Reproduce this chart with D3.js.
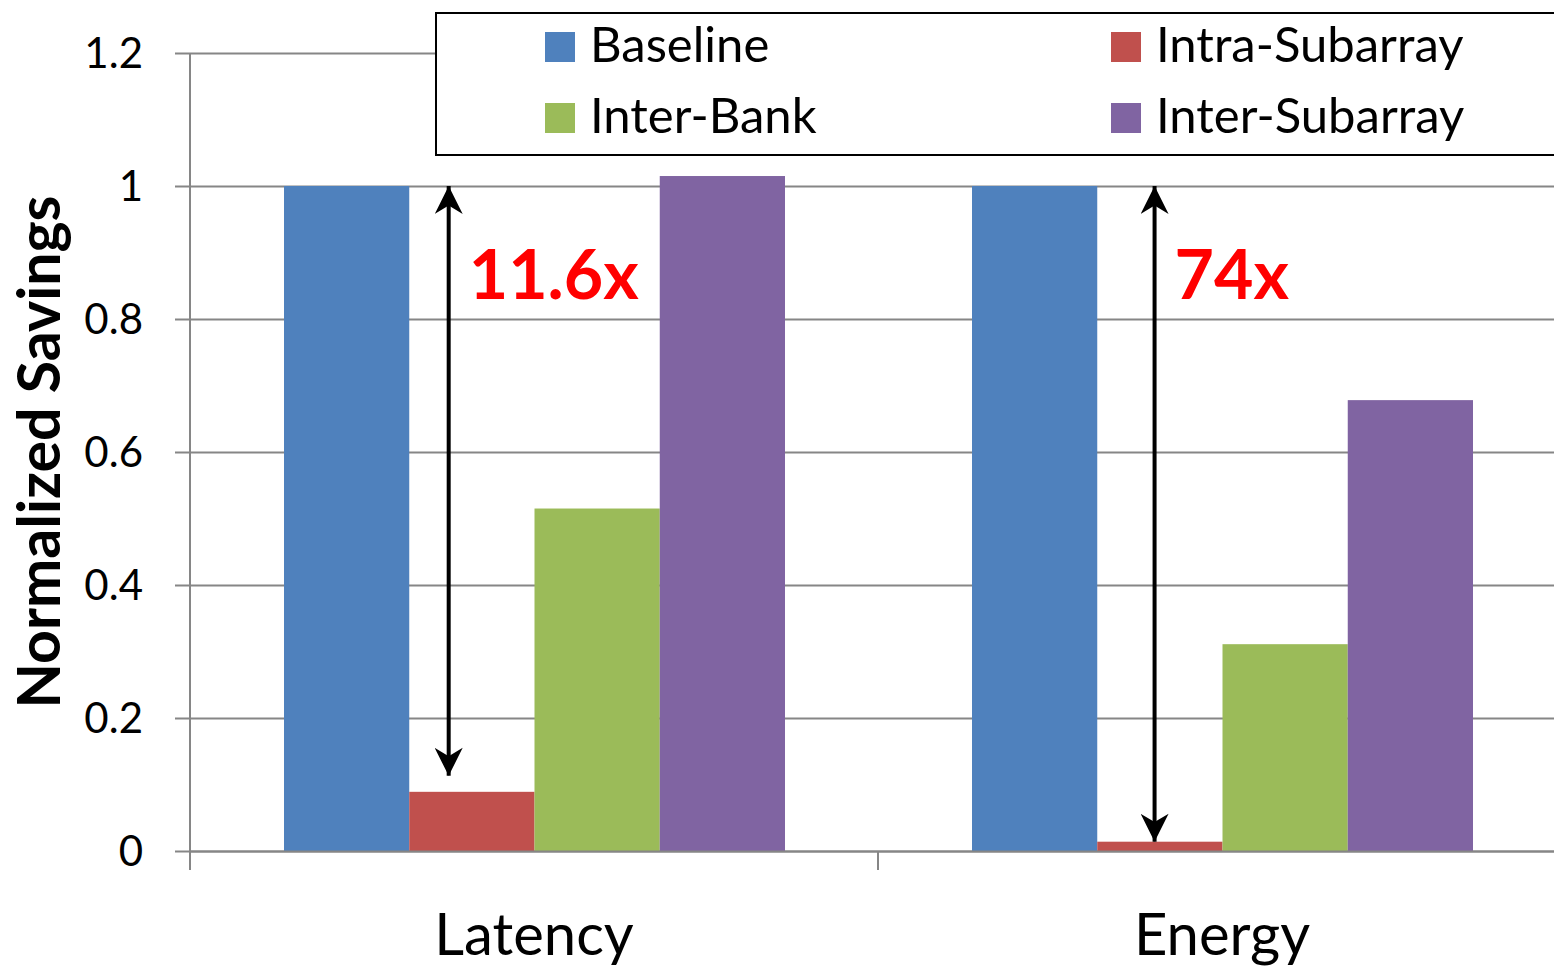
<!DOCTYPE html>
<html>
<head>
<meta charset="utf-8">
<style>
  body { margin: 0; background: #fff; }
  text { font-family: Lato, "Open Sans", sans-serif; fill: #000; }
</style>
</head>
<body>
<script src="https://cdn.jsdelivr.net/npm/d3@7/dist/d3.min.js"></script>
<script>
  // data
  var categories = ["Latency", "Energy"];
  var series = ["Baseline", "Intra-Subarray", "Inter-Bank", "Inter-Subarray"];
  var barOrder = ["Baseline", "Intra-Subarray", "Inter-Bank", "Inter-Subarray"];
  var baselineVals = [1.0, 1.0];
  var intraVals = [0.089, 0.014];
  var interBankVals = [0.515, 0.311];
  var interSubVals = [1.015, 0.678];
  var yTicks = [0, 0.2, 0.4, 0.6, 0.8, 1, 1.2];
  var annoLabels = ["11.6x", "74x"];
  var annoTop = [1.0, 1.0];
  var annoBottom = [0.113, 0.014];
  var colors = ["#4F81BD", "#C0504D", "#9BBB59", "#8064A2"];

  var values = {
    "Baseline": baselineVals,
    "Intra-Subarray": intraVals,
    "Inter-Bank": interBankVals,
    "Inter-Subarray": interSubVals
  };

  var width = 1554, height = 966;
  var margin = {left: 190, top: 53, bottom: 115};

  var svg = d3.select("body").append("svg")
      .attr("width", width)
      .attr("height", height);

  var x = d3.scaleBand().domain(categories).range([margin.left, margin.left + 688 * 2]);
  var xs = d3.scaleBand().domain(barOrder).range([94, 595]);
  var y = d3.scaleLinear().domain([0, 1.2]).range([height - margin.bottom, margin.top]);
  var color = d3.scaleOrdinal().domain(series).range(colors);

  // gridlines + left axis
  var yAxis = d3.axisLeft(y).tickValues(yTicks)
      .tickSize(-(width - margin.left)).tickSizeOuter(0)
      .tickFormat(d3.format("~g")).tickPadding(47);
  var gy = svg.append("g")
      .attr("transform", "translate(" + margin.left + ",0)")
      .call(yAxis);
  gy.select(".domain").remove();
  gy.selectAll(".tick line").attr("x1", -15).attr("stroke", "#868686").attr("stroke-width", 2);
  gy.selectAll(".tick text").style("font-size", "42px").attr("dy", "0.35em");

  // y axis line
  svg.append("line")
      .attr("x1", margin.left).attr("x2", margin.left)
      .attr("y1", y(1.2)).attr("y2", y(0) + 19)
      .attr("stroke", "#868686").attr("stroke-width", 2);

  // bars
  var groups = svg.selectAll(".grp").data(categories).enter().append("g")
      .attr("class", "grp")
      .attr("transform", function (d) { return "translate(" + x(d) + ",0)"; });
  groups.selectAll("rect")
      .data(function (d, i) { return barOrder.map(function (s) { return {s: s, v: values[s][i]}; }); })
      .enter().append("rect")
      .attr("x", function (d) { return xs(d.s); })
      .attr("width", xs.bandwidth())
      .attr("y", function (d) { return y(d.v); })
      .attr("height", function (d) { return y(0) - y(d.v); })
      .attr("fill", function (d) { return color(d.s); });

  // x axis
  var xAxis = d3.axisBottom(x).tickSize(0).tickPadding(0);
  var gx = svg.append("g")
      .attr("transform", "translate(0," + y(0) + ")")
      .call(xAxis);
  gx.select(".domain").attr("stroke", "#868686").attr("stroke-width", 2);
  gx.selectAll(".tick text").style("font-size", "58px").attr("dy", "0").attr("y", 104);
  svg.selectAll(".xtick").data([0, 1, 2]).enter().append("line")
      .attr("x1", function (d) { return margin.left + d * x.bandwidth(); })
      .attr("x2", function (d) { return margin.left + d * x.bandwidth(); })
      .attr("y1", y(0)).attr("y2", y(0) + 19)
      .attr("stroke", "#868686").attr("stroke-width", 2);

  // annotations: double arrows from baseline to intra-subarray
  var defs = svg.append("defs");
  defs.append("marker").attr("id", "ah")
      .attr("viewBox", "0 0 10 10").attr("refX", 10).attr("refY", 5)
      .attr("markerUnits", "userSpaceOnUse")
      .attr("markerWidth", 30).attr("markerHeight", 28)
      .attr("orient", "auto-start-reverse")
      .append("path").attr("d", "M0,0 L10,5 L0,10 L3,5 Z").attr("fill", "#000");

  var arrowOffset = [0.376, 0.402];
  categories.forEach(function (c, i) {
    var ax = x(c) + x.bandwidth() * arrowOffset[i];
    svg.append("line")
        .attr("x1", ax).attr("x2", ax)
        .attr("y1", y(annoTop[i])).attr("y2", y(annoBottom[i]))
        .attr("stroke", "#000").attr("stroke-width", 4)
        .attr("marker-start", "url(#ah)").attr("marker-end", "url(#ah)");
    svg.append("text")
        .attr("x", ax + 20).attr("y", 299)
        .style("font-size", "68px").style("font-weight", "bold")
        .style("fill", "#FF0000")
        .text(annoLabels[i]);
  });

  // y axis title
  svg.append("text")
      .attr("transform", "translate(60," + ((y(0) + y(1.2)) / 2) + ") rotate(-90)")
      .attr("text-anchor", "middle")
      .style("font-size", "59px").style("font-weight", "bold")
      .text("Normalized Savings");

  // legend
  var legend = svg.append("g");
  legend.append("rect")
      .attr("x", 436).attr("y", 13).attr("width", 1200).attr("height", 142)
      .attr("fill", "#fff").attr("stroke", "#000").attr("stroke-width", 2);
  var legendItems = ["Baseline", "Intra-Subarray", "Inter-Bank", "Inter-Subarray"];
  var li = legend.selectAll(".li").data(legendItems).enter().append("g")
      .attr("transform", function (d, i) {
        return "translate(" + (545 + (i % 2) * 566) + "," + (32 + Math.floor(i / 2) * 71) + ")";
      });
  li.append("rect").attr("width", 30).attr("height", 30)
      .attr("fill", function (d) { return color(d); });
  li.append("text").attr("x", 45).attr("y", 30)
      .style("font-size", "49px")
      .text(function (d) { return d; });
</script>
</body>
</html>
